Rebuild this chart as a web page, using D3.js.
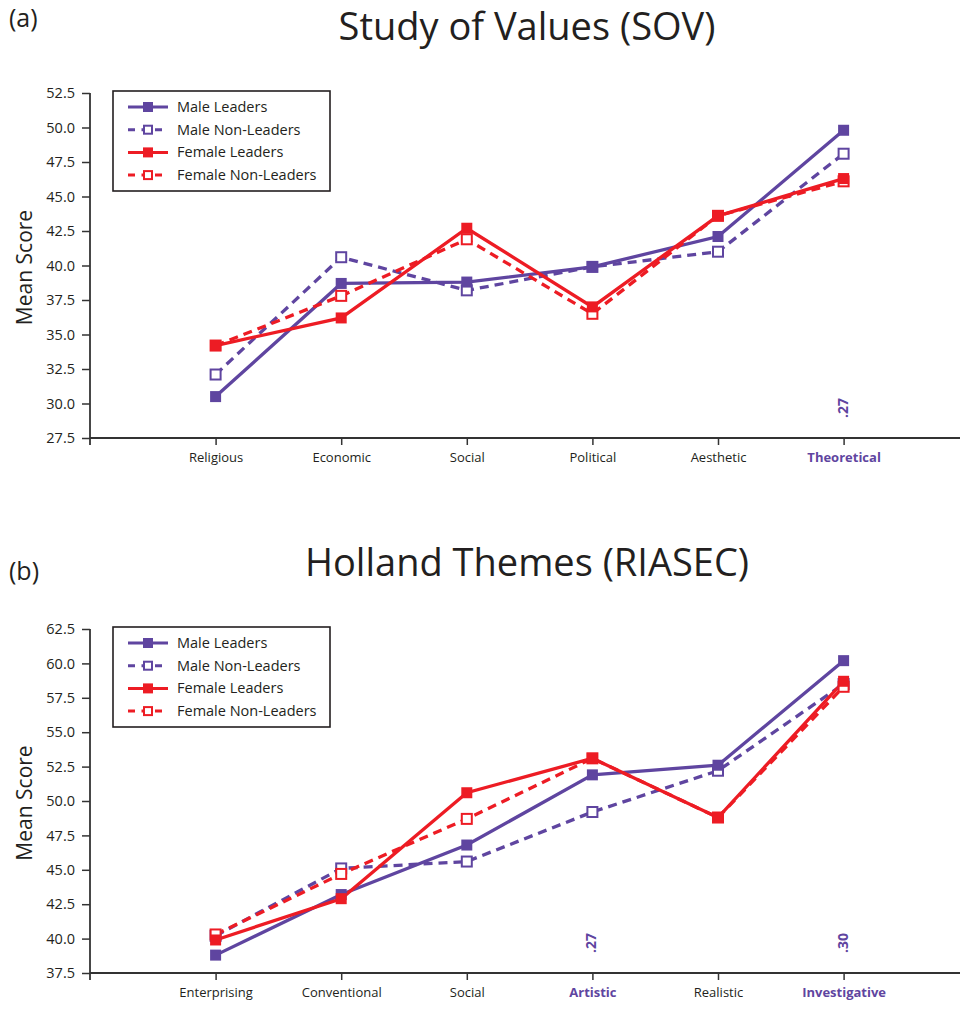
<!DOCTYPE html>
<html>
<head>
<meta charset="utf-8">
<script src="https://cdn.jsdelivr.net/npm/d3@7"></script>
<style>
  body { margin: 0; background: #fff; }
  text { font-family: "Open Sans", "Noto Sans", sans-serif; }
</style>
</head>
<body>
<script>
// chart data
var sovCategories = ["Religious", "Economic", "Social", "Political", "Aesthetic", "Theoretical"];
var sovMaleLeaders = [30.5, 38.7, 38.8, 39.9, 42.1, 49.8];
var sovMaleNonLeaders = [32.1, 40.6, 38.2, 39.9, 41.0, 48.1];
var sovFemaleLeaders = [34.2, 36.2, 42.7, 37.0, 43.6, 46.3];
var sovFemaleNonLeaders = [34.2, 37.8, 41.9, 36.5, 43.6, 46.1];
var sovTicks = [27.5, 30.0, 32.5, 35.0, 37.5, 40.0, 42.5, 45.0, 47.5, 50.0, 52.5];
var sovHighlights = ["Theoretical"];
var sovNotes = [{cat: "Theoretical", label: ".27"}];

var holCategories = ["Enterprising", "Conventional", "Social", "Artistic", "Realistic", "Investigative"];
var holMaleLeaders = [38.8, 43.2, 46.8, 51.9, 52.6, 60.2];
var holMaleNonLeaders = [40.2, 45.1, 45.6, 49.2, 52.2, 58.5];
var holFemaleLeaders = [39.9, 42.9, 50.6, 53.1, 48.8, 58.7];
var holFemaleNonLeaders = [40.3, 44.7, 48.7, 53.1, 48.8, 58.3];
var holTicks = [37.5, 40.0, 42.5, 45.0, 47.5, 50.0, 52.5, 55.0, 57.5, 60.0, 62.5];
var holHighlights = ["Artistic", "Investigative"];
var holNotes = [{cat: "Artistic", label: ".27"}, {cat: "Investigative", label: ".30"}];

var seriesNames = ["Male Leaders", "Male Non-Leaders", "Female Leaders", "Female Non-Leaders"];

var purple = "#5f45a0",
    red = "#ed1c24";

var seriesStyle = [
  {color: purple, dashed: false, filled: true},
  {color: purple, dashed: true, filled: false},
  {color: red, dashed: false, filled: true},
  {color: red, dashed: true, filled: false}
];

var svg = d3.select("body")
  .append("svg")
  .attr("width", 960)
  .attr("height", 1009);

drawPanel({
  letter: "(a)", letterY: 27, title: "Study of Values (SOV)",
  cats: sovCategories, ticks: sovTicks,
  series: [sovMaleLeaders, sovMaleNonLeaders, sovFemaleLeaders, sovFemaleNonLeaders],
  highlights: sovHighlights, notes: sovNotes,
  yTop: 93, yBottom: 438
});

drawPanel({
  letter: "(b)", letterY: 580, title: "Holland Themes (RIASEC)",
  cats: holCategories, ticks: holTicks,
  series: [holMaleLeaders, holMaleNonLeaders, holFemaleLeaders, holFemaleNonLeaders],
  highlights: holHighlights, notes: holNotes,
  yTop: 629, yBottom: 973
});

function drawPanel(p){
  var axisX = 90;
  var g = svg.append("g");

  // title and panel letter
  g.append("text")
    .attr("x", 9).attr("y", p.letterY)
    .attr("font-size", 25).attr("fill", "#231f20")
    .text(p.letter);
  g.append("text")
    .attr("x", 527).attr("y", p.yTop - 53)
    .attr("text-anchor", "middle")
    .attr("font-size", 38).attr("fill", "#231f20")
    .text(p.title);

  var x = d3.scaleLinear()
    .domain([-1, 6.3])
    .range([axisX, axisX + 125.6 * 7.3]);

  var y = d3.scaleLinear()
    .domain([p.ticks[0], p.ticks[p.ticks.length - 1]])
    .range([p.yBottom, p.yTop]);

  // y axis
  var yAxis = g.append("g")
    .attr("transform", "translate(" + axisX + ",0)")
    .call(d3.axisLeft(y).tickValues(p.ticks).tickFormat(d3.format(".1f")).tickSize(8).tickSizeOuter(0));
  yAxis.select(".domain").attr("stroke", "#333").attr("stroke-width", 1.8)
    .attr("d", "M0," + (p.yBottom + 7) + "V" + p.yTop);
  yAxis.selectAll(".tick line").attr("stroke", "#333").attr("stroke-width", 1.5);
  yAxis.selectAll(".tick text").attr("font-size", 14.5).attr("fill", "#231f20")
    .attr("font-family", "'Open Sans', sans-serif").attr("x", -15);

  // x axis
  var xAxis = g.append("g")
    .attr("transform", "translate(0," + p.yBottom + ")")
    .call(d3.axisBottom(x).tickValues(d3.range(p.cats.length))
      .tickFormat(function(i){ return p.cats[i]; }).tickSize(7).tickSizeOuter(0));
  xAxis.select(".domain").attr("stroke", "#333").attr("stroke-width", 1.8)
    .attr("d", "M" + axisX + ",0H960");
  xAxis.selectAll(".tick line").attr("stroke", "#333").attr("stroke-width", 1.5);
  xAxis.selectAll(".tick text")
    .attr("font-size", 13).attr("y", 15)
    .attr("font-family", "'Open Sans', sans-serif")
    .attr("fill", function(i){ return p.highlights.indexOf(p.cats[i]) >= 0 ? purple : "#231f20"; })
    .attr("font-weight", function(i){ return p.highlights.indexOf(p.cats[i]) >= 0 ? "bold" : "normal"; });

  // y axis label
  g.append("text")
    .attr("transform", "translate(32," + ((p.yTop + p.yBottom) / 2 + 2) + ") rotate(-90)")
    .attr("text-anchor", "middle")
    .attr("font-size", 21).attr("fill", "#231f20")
    .text("Mean Score");

  // rotated notes
  p.notes.forEach(function(n){
    var i = p.cats.indexOf(n.cat);
    g.append("text")
      .attr("transform", "translate(" + (x(i) + 4) + "," + (p.yBottom - 30) + ") rotate(-90)")
      .attr("text-anchor", "middle")
      .attr("font-size", 14).attr("font-weight", "bold").attr("fill", purple)
      .text(n.label);
  });

  var line = d3.line()
    .x(function(d, i){ return x(i); })
    .y(function(d){ return y(d); });

  // lines, drawn back to front
  var order = [1, 0, 3, 2];
  order.forEach(function(s){
    var st = seriesStyle[s];
    g.append("path")
      .datum(p.series[s])
      .attr("fill", "none")
      .attr("stroke", st.color)
      .attr("stroke-width", 3.3)
      .attr("stroke-dasharray", st.dashed ? "9,6" : null)
      .attr("d", line);
  });
  order.forEach(function(s){
    var st = seriesStyle[s];
    g.selectAll(null)
      .data(p.series[s])
      .enter()
      .append("rect")
      .attr("x", function(d, i){ return x(i) - (st.filled ? 5.5 : 5); })
      .attr("y", function(d){ return y(d) - (st.filled ? 5.5 : 5); })
      .attr("width", st.filled ? 11 : 10)
      .attr("height", st.filled ? 11 : 10)
      .attr("fill", st.filled ? st.color : "#fff")
      .attr("stroke", st.filled ? "none" : st.color)
      .attr("stroke-width", 2);
  });

  // legend
  var lg = g.append("g").attr("transform", "translate(113," + (p.yTop - 2) + ")");
  lg.append("rect")
    .attr("width", 217).attr("height", 100)
    .attr("fill", "#fff").attr("stroke", "#231f20").attr("stroke-width", 1.6);
  seriesNames.forEach(function(name, s){
    var st = seriesStyle[s];
    var ry = 16 + s * 22.7;
    lg.append("line")
      .attr("x1", 15).attr("x2", 55).attr("y1", ry).attr("y2", ry)
      .attr("stroke", st.color).attr("stroke-width", 3)
      .attr("stroke-dasharray", st.dashed ? "7,6.5" : null);
    lg.append("rect")
      .attr("x", st.filled ? 30 : 31).attr("y", ry - (st.filled ? 5 : 4))
      .attr("width", st.filled ? 10 : 8).attr("height", st.filled ? 10 : 8)
      .attr("fill", st.filled ? st.color : "#fff")
      .attr("stroke", st.filled ? "none" : st.color)
      .attr("stroke-width", 2);
    lg.append("text")
      .attr("x", 64).attr("y", ry + 5)
      .attr("font-size", 14.5).attr("fill", "#231f20")
      .text(name);
  });
}
</script>
</body>
</html>
